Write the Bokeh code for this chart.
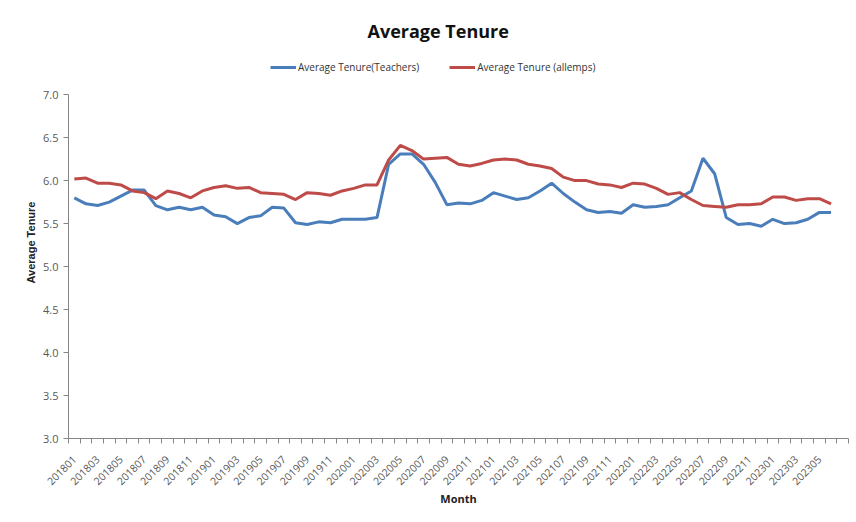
from bokeh.plotting import figure
from bokeh.models import (ColumnDataSource, FixedTicker, Legend, LegendItem, Title,
                          CustomJSTickFormatter, NumeralTickFormatter)
from bokeh.embed import file_html
from bokeh.resources import INLINE
import math

months = []
y, m = 2018, 1
while (y, m) <= (2023, 6):
    months.append(f"{y}{m:02d}")
    m += 1
    if m > 12:
        m = 1
        y += 1

teachers = [5.80, 5.73, 5.71, 5.75, 5.82, 5.89, 5.89, 5.71, 5.66, 5.69,
            5.66, 5.69, 5.60, 5.58, 5.50, 5.57, 5.59, 5.69, 5.68, 5.51,
            5.49, 5.52, 5.51, 5.55, 5.55, 5.55, 5.57, 6.19, 6.31, 6.31,
            6.19, 5.98, 5.72, 5.74, 5.73, 5.77, 5.86, 5.82, 5.78, 5.80,
            5.88, 5.97, 5.85, 5.75, 5.66, 5.63, 5.64, 5.62, 5.72, 5.69,
            5.70, 5.72, 5.80, 5.88, 6.26, 6.08, 5.57, 5.49, 5.50, 5.47,
            5.55, 5.50, 5.51, 5.55, 5.63, 5.63]

allemps = [6.02, 6.03, 5.97, 5.97, 5.95, 5.88, 5.86, 5.79, 5.88, 5.85,
           5.80, 5.88, 5.92, 5.94, 5.91, 5.92, 5.86, 5.85, 5.84, 5.78,
           5.86, 5.85, 5.83, 5.88, 5.91, 5.95, 5.95, 6.24, 6.41, 6.35,
           6.25, 6.26, 6.27, 6.19, 6.17, 6.20, 6.24, 6.25, 6.24, 6.19,
           6.17, 6.14, 6.04, 6.00, 6.00, 5.96, 5.95, 5.92, 5.97, 5.96,
           5.91, 5.84, 5.86, 5.78, 5.71, 5.70, 5.69, 5.72, 5.72, 5.73,
           5.81, 5.81, 5.77, 5.79, 5.79, 5.73]

y_ticks = [3.0, 3.5, 4.0, 4.5, 5.0, 5.5, 6.0, 6.5, 7.0]

FONT = "Open Sans"
TICK_COLOR = "#595959"
AXIS_COLOR = "#868686"

idx = list(range(len(months)))
src = ColumnDataSource(dict(x=idx, month=months, t=teachers, a=allemps))

# frame extends above 7.0 so that the legend can sit inside it
p = figure(width=856, height=522, output_backend="svg", toolbar_location=None,
           x_range=(-0.5, len(months) + 0.5), y_range=(3.0, 7.56),
           min_border_left=68, min_border_right=8, min_border_top=46,
           min_border_bottom=84, title=None)
p.outline_line_color = None
p.xgrid.grid_line_color = None
p.ygrid.grid_line_color = None

r1 = p.line("x", "t", source=src, line_color="#4A7EBB", line_width=3)
r2 = p.line("x", "a", source=src, line_color="#BE4B48", line_width=3)

# x axis
label_ticks = [i for i in idx if i % 2 == 0]
boundary_ticks = [i - 0.5 for i in range(len(months) + 2)]
p.xaxis.ticker = FixedTicker(ticks=label_ticks, minor_ticks=boundary_ticks)
p.xaxis.formatter = CustomJSTickFormatter(args=dict(labels=months), code="""
    const i = Math.round(tick);
    return (i >= 0 && i < labels.length) ? labels[i] : "";
""")
p.xaxis.major_tick_line_color = None
p.xaxis.minor_tick_line_color = AXIS_COLOR
p.xaxis.minor_tick_out = 5
p.xaxis.minor_tick_in = 0
p.xaxis.major_label_orientation = math.pi / 4
p.xaxis.major_label_text_font = FONT
p.xaxis.major_label_text_font_size = "10.5px"
p.xaxis.major_label_text_color = TICK_COLOR
p.xaxis.major_label_standoff = 13
p.xaxis.axis_line_color = AXIS_COLOR
p.xaxis.axis_label = "Month"
p.xaxis.axis_label_text_font = FONT
p.xaxis.axis_label_text_font_style = "bold"
p.xaxis.axis_label_text_font_size = "11px"
p.xaxis.axis_label_text_color = "#222222"
p.xaxis.axis_label_standoff = -1

# y axis
p.yaxis.ticker = FixedTicker(ticks=y_ticks)
p.yaxis.bounds = (3.0, 7.0)
p.yaxis.formatter = NumeralTickFormatter(format="0.0")
p.yaxis.major_tick_out = 5
p.yaxis.major_tick_in = 0
p.yaxis.minor_tick_line_color = None
p.yaxis.major_tick_line_color = AXIS_COLOR
p.yaxis.axis_line_color = AXIS_COLOR
p.yaxis.major_label_text_font = FONT
p.yaxis.major_label_text_font_size = "11px"
p.yaxis.major_label_text_color = TICK_COLOR
p.yaxis.axis_label = "Average Tenure"
p.yaxis.axis_label_text_font = "Liberation Sans"
p.yaxis.axis_label_text_font_style = "bold"
p.yaxis.axis_label_text_font_size = "11px"
p.yaxis.axis_label_text_color = "#222222"
p.yaxis.axis_label_standoff = 3

legend = Legend(items=[LegendItem(label="Average Tenure(Teachers)", renderers=[r1]),
                       LegendItem(label="Average Tenure (allemps)", renderers=[r2])],
                orientation="horizontal", location=(202, 364),
                label_text_font=FONT, label_text_font_size="10px",
                label_text_color="#333333", glyph_width=26, glyph_height=14,
                spacing=30, label_standoff=2, border_line_color=None,
                background_fill_alpha=0, padding=2, margin=0,
                label_height=14)
p.add_layout(legend, "center")

p.add_layout(Title(text="Average Tenure", align="left", offset=299,
                   text_font=FONT, text_font_size="18px", text_font_style="bold",
                   text_color="#111111", standoff=7), "above")

open("out.html", "w").write(file_html(p, INLINE))
